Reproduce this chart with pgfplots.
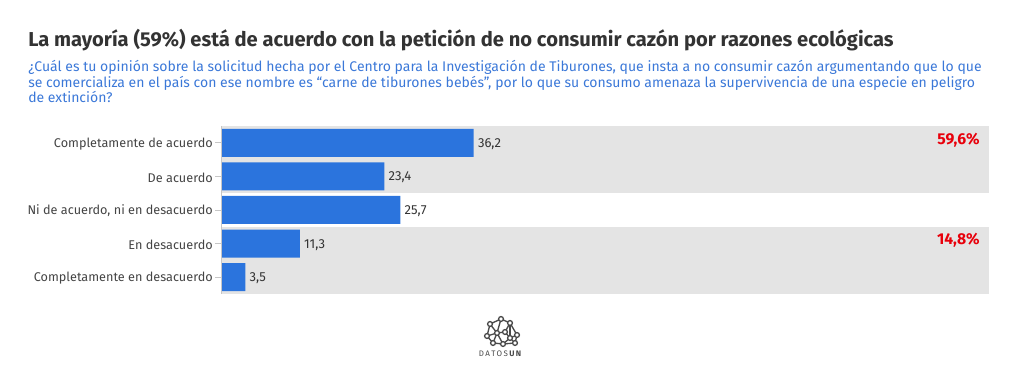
\documentclass[border=0pt]{standalone}
\usepackage{pgfplots}
\pgfplotsset{compat=1.18}
\usepackage{fontspec}
\setmainfont{Fira Sans}
\definecolor{barblue}{HTML}{2B74DD}
\definecolor{band}{HTML}{E4E4E4}
\definecolor{subblue}{HTML}{3B78D8}
\definecolor{titlegray}{HTML}{333333}
\definecolor{labgray}{HTML}{444444}
\definecolor{redlab}{HTML}{E8000B}
\definecolor{logogray}{HTML}{4A4A4A}
\begin{document}
\begin{tikzpicture}[x=0.75pt,y=0.75pt]
\useasboundingbox (0,0) rectangle (1020,377);
\node[anchor=base west, inner sep=0, font=\fontsize{15.1}{18}\selectfont\bfseries, text=titlegray] at (28,377-47) {La mayoría (59\%) está de acuerdo con la petición de no consumir cazón por razones ecológicas};
\node[anchor=base west, inner sep=0, font=\fontsize{10.5}{12}\selectfont, text=subblue] at (28,377-72) {¿Cuál es tu opinión sobre la solicitud hecha por el Centro para la Investigación de Tiburones, que insta a no consumir cazón argumentando que lo que};
\node[anchor=base west, inner sep=0, font=\fontsize{10.5}{12}\selectfont, text=subblue] at (28,377-87.5) {se comercializa en el país con ese nombre es “carne de tiburones bebés”, por lo que su consumo amenaza la supervivencia de una especie en peligro};
\node[anchor=base west, inner sep=0, font=\fontsize{10.5}{12}\selectfont, text=subblue] at (28,377-103) {de extinción?};
\begin{axis}[
  at={(221*0.75pt,83*0.75pt)}, anchor=south west,
  scale only axis, width=576pt, height=126pt,
  xmin=0, xmax=110, ymin=-0.5, ymax=4.5, y dir=reverse,
  axis x line=none,
  axis y line*=left,
  axis line style={draw=gray!45, line width=0.6pt},
  ytick={0,1,2,3,4},
  yticklabels={Completamente de acuerdo, De acuerdo, {Ni de acuerdo, ni en desacuerdo}, En desacuerdo, Completamente en desacuerdo},
  yticklabel style={font=\fontsize{9.5}{12}\selectfont, text=labgray, inner sep=1.5pt, yshift=-0.8pt},
  tick align=outside, ytick pos=left,
  major tick length=4.5pt,
  tick style={draw=gray!45, line width=0.6pt},
  axis on top,
  /pgf/number format/assume math mode=true,
  clip=false,
]
\addplot[fill=band, draw=none, mark=none, forget plot] coordinates {(0,-0.5) (110,-0.5) (110,1.5) (0,1.5)};
\addplot[fill=band, draw=none, mark=none, forget plot] coordinates {(0,2.5) (110,2.5) (110,4.5) (0,4.5)};
\addplot[xbar, bar width=21pt, fill=barblue, draw=none,
  nodes near coords,
  nodes near coords style={anchor=west, inner sep=3pt, yshift=-0.8pt, font=\fontsize{9.8}{12}\selectfont, text=titlegray,
    /pgf/number format/.cd, use comma, fixed, fixed zerofill, precision=1, assume math mode=true}]
  coordinates {(36.2,0) (23.4,1) (25.7,2) (11.3,3) (3.5,4)};
\node[anchor=base east, inner sep=0, font=\fontsize{11.8}{14}\selectfont\bfseries, text=redlab] at (axis cs:108.7,0.06) {59,6\%};
\node[anchor=base east, inner sep=0, font=\fontsize{11.8}{14}\selectfont\bfseries, text=redlab] at (axis cs:108.7,3.04) {14,8\%};
\end{axis}
% logo
\begin{scope}[draw=logogray, line width=1pt, yscale=-1, yshift=-377*0.75pt]
\draw (490,324)--(501,319)--(510,323)--(505,332)--(497,333)--(490,324);
\draw (490,324)--(487,336)--(493,343)--(503,344)--(515,343)--(517,335)--(510,323);
\draw (501,319)--(497,333)--(487,336);
\draw (497,333)--(493,343); \draw (497,333)--(503,344);
\draw (505,332)--(510,338)--(517,335); \draw (510,338)--(515,343); \draw (510,338)--(503,344);
\draw (510,323)--(510,338);
\foreach \p in {(490,324),(501,319),(510,323),(497,333),(505,332),(487,336),(517,335),(493,343),(503,344),(515,343),(510,338)}
  \filldraw[fill=white] \p circle (2.4);
\end{scope}
\node[anchor=base, inner sep=0, font=\fontsize{6}{7}\selectfont, text=logogray] at (500,377-357) {D\,A\,T\,O\,S\,\textbf{U\,N}};
\end{tikzpicture}
\end{document}
